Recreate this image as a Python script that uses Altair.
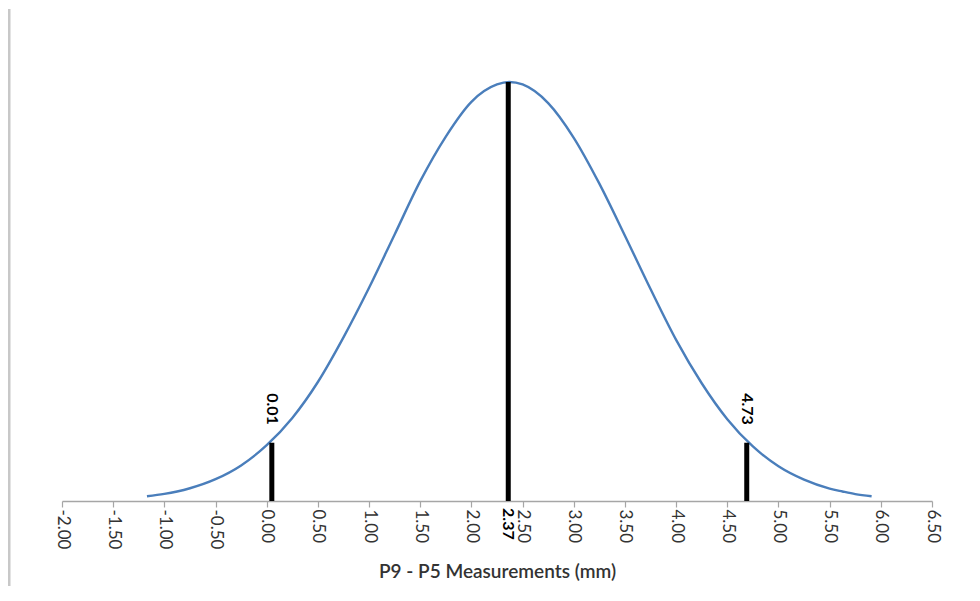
import altair as alt
import pandas as pd

# Curve (density-like units)
curve_x = [-1.17, -1.00, -0.875, -0.75, -0.50, -0.25, 0.00, 0.25, 0.50, 0.75, 1.00, 1.25, 1.50,
           1.75, 2.00, 2.25, 2.37, 2.50, 2.75, 3.00, 3.25, 3.50, 3.75, 4.00, 4.25, 4.50,
           4.75, 5.00, 5.25, 5.50, 5.625, 5.75, 5.91]
curve_y = [0.0038, 0.0057, 0.0077, 0.0103, 0.0176, 0.0287, 0.045, 0.067, 0.096, 0.132, 0.172,
           0.215, 0.258, 0.294, 0.322, 0.336, 0.338, 0.336, 0.321, 0.293, 0.256, 0.214, 0.171,
           0.130, 0.095, 0.066, 0.044, 0.028, 0.0172, 0.0100, 0.0077, 0.0056, 0.0038]

# Marker lines (drawn positions) and their labels
marker_x = [0.05, 2.36, 4.69]
marker_top = [0.047, 0.338, 0.047]
marker_text = ["0.01", "2.37", "4.73"]
marker_text_y = [0.087, -0.0057, 0.087]

tick_values = [-2.0, -1.5, -1.0, -0.5, 0.0, 0.5, 1.0, 1.5, 2.0, 2.5, 3.0, 3.5,
               4.0, 4.5, 5.0, 5.5, 6.0, 6.5]

x_title = "P9 - P5 Measurements (mm)"

curve = pd.DataFrame({"x": curve_x, "y": curve_y})
markers = pd.DataFrame({"x": marker_x, "y0": [0.0] * 3, "top": marker_top,
                        "label": marker_text, "ly": marker_text_y})

FONT = "Lato"

xscale = alt.Scale(domain=[-2.0, 6.5], nice=False, zero=False)
yscale = alt.Scale(domain=[0, 0.388], nice=False)

x_axis = alt.Axis(
    title=x_title, values=tick_values,
    labelExpr="replace(format(datum.value, '.2f'), '\u2212', '-')",
    labelAngle=90, labelAlign="left", labelBaseline="middle",
    labelFont=FONT, labelFontSize=17, labelColor="#333333", labelPadding=2,
    tickSize=6, tickColor="#a6a6a6", tickWidth=1.2,
    domainColor="#a6a6a6", domainWidth=1.5, grid=False,
    titleFont=FONT, titleFontSize=19, titleFontWeight=600, titleColor="#333333",
    titlePadding=14,
)

line = alt.Chart(curve).mark_line(color="#4a7ebb", strokeWidth=2.4, interpolate="monotone").encode(
    x=alt.X("x:Q", scale=xscale, axis=x_axis),
    y=alt.Y("y:Q", scale=yscale, axis=None),
)

rules = alt.Chart(markers).mark_rule(color="black", strokeWidth=5).encode(
    x=alt.X("x:Q", scale=xscale),
    y=alt.Y("y0:Q", scale=yscale),
    y2="top:Q",
)

texts = alt.Chart(markers).mark_text(
    angle=90, align="left", baseline="middle", font=FONT, fontSize=16,
    fontWeight="bold", color="black", dx=0, clip=False,
).encode(
    x=alt.X("x:Q", scale=xscale),
    y=alt.Y("ly:Q", scale=yscale),
    text="label:N",
)

frame = alt.Chart(pd.DataFrame({"k": [0]})).mark_rule(color="#c8c8c8", strokeWidth=3).encode(
    x=alt.value(-53), y=alt.value(-11), y2=alt.value(575),
)

chart = alt.layer(frame, line, rules, texts).properties(
    width=870, height=481,
    background="white",
    autosize=alt.AutoSizeParams(type="none"),
    padding={"left": 54, "top": 12, "right": 30, "bottom": 85},
).configure_view(stroke=None)

chart.save("out.html", embed_options={"renderer": "svg", "actions": False})
